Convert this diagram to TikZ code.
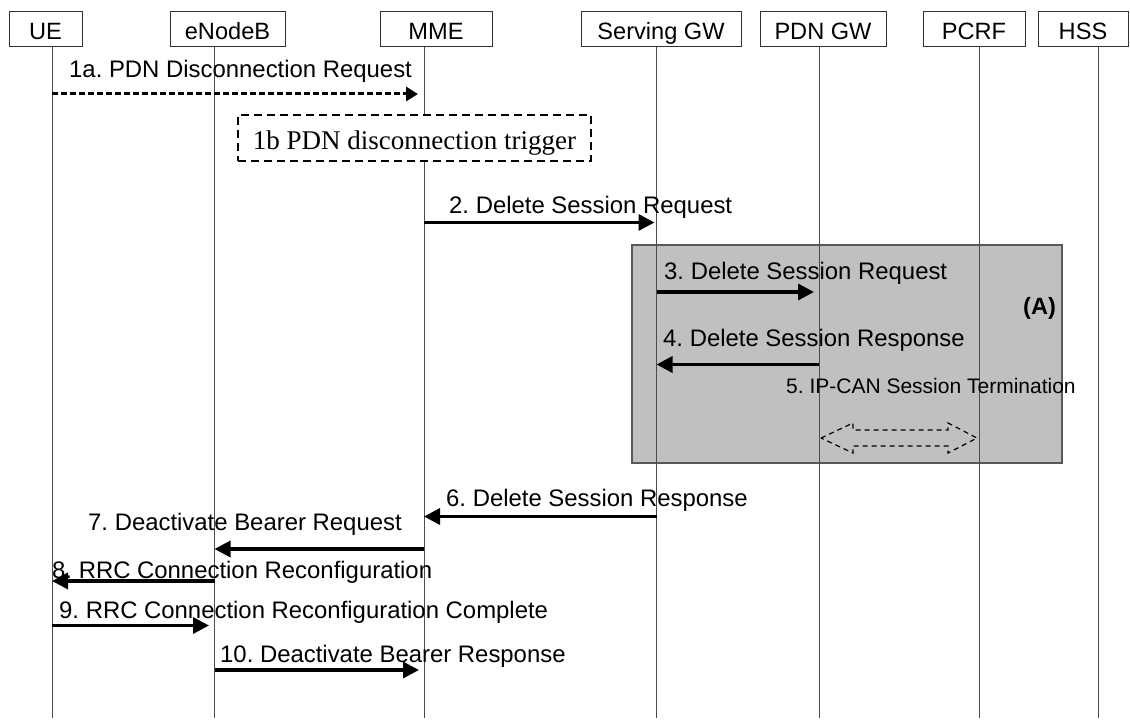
\documentclass[tikz,border=0pt]{standalone}
\usepackage{fontspec}
\setmainfont{Liberation Sans}
\newfontfamily\timesf{Liberation Serif}
\usetikzlibrary{arrows.meta}
\definecolor{shadebox}{RGB}{192,192,192}
\frenchspacing
\begin{document}
\begin{tikzpicture}[x=1pt,y=-1pt,
  hdr/.style={draw=black!80, line width=1pt, fill=white, inner sep=0pt,
    minimum height=35pt, text height=20pt, text depth=0.4pt,
    font=\fontsize{23.6}{28}\selectfont},
  life/.style={draw=black!70, line width=1pt},
  msg/.style={line width=3.4pt, -{Triangle[length=16pt,width=16pt]}},
  dmsg/.style={line width=3pt, dash pattern=on 6pt off 3pt,
    -{Triangle[length=12pt,width=14pt]}},
  lbl/.style={anchor=base west, inner sep=0pt, font=\fontsize{23.9}{28}\selectfont},
  slbl/.style={anchor=base west, inner sep=0pt, font=\fontsize{21}{25}\selectfont},
  trig/.style={draw=black, line width=1.3pt, dash pattern=on 8pt off 5pt,
    fill=white, inner sep=0pt, minimum width=353pt, minimum height=46pt,
    text height=23pt, text depth=0.4pt, font=\timesf\fontsize{27}{32}\selectfont},
  regionbox/.style={draw=black!65, line width=1.2pt, fill=shadebox},
  dblarrow/.style={draw=black, line width=1.2pt, dash pattern=on 5pt off 4pt}
]
\useasboundingbox (0,0) rectangle (1130,722);
\fill[white] (0,0) rectangle (1130,722);

% shaded region (A)
\draw[regionbox] (632,245) rectangle (1062,463);

% lifelines
\foreach \n/\x in {ue/52, enb/214.5, mme/424, sgw/656.5, pgw/819, pcrf/979.5, hss/1098}{
  \coordinate (\n T) at (\x,47);
  \coordinate (\n B) at (\x,718);
  \draw[life] (\n T) -- (\n B);
}

% header boxes
\node[hdr, minimum width=73pt]  (ue)   at (45.5,29.5) {UE};
\node[hdr, minimum width=115pt] (enb)  at (227.5,29.5) {eNodeB};
\node[hdr, minimum width=112pt] (mme)  at (436,29.5) {MME};
\node[hdr, minimum width=160pt] (sgw)  at (661,29.5) {Serving GW};
\node[hdr, minimum width=126pt] (pgw)  at (823,29.5) {PDN GW};
\node[hdr, minimum width=102pt] (pcrf) at (974,29.5) {PCRF};
\node[hdr, minimum width=90pt]  (hss)  at (1083,29.5) {HSS};

% 1a
\node[lbl] (l1a) at (69,78) {1a. PDN Disconnection Request};
\draw[dmsg, shorten >=6pt] (ueT |- 0,94) -- (mmeT |- 0,94);

% 1b
\node[trig] (trig) at (414.5,138) {1b PDN disconnection trigger};

% 2
\node[lbl] (l2) at (449,214) {2. Delete Session Request};
\draw[msg, shorten >=2pt] (mmeT |- 0,222.5) -- (sgwT |- 0,222.5);

% 3
\node[lbl] (l3) at (664,279.5) {3. Delete Session Request};
\draw[msg, shorten >=5pt] (sgwT |- 0,292) -- (pgwT |- 0,292);

% (A)
\node[lbl, font=\bfseries\fontsize{23.6}{28}\selectfont] (lA) at (1023,314) {(A)};

% 4
\node[lbl] (l4) at (663,346.7) {4. Delete Session Response};
\draw[msg] (pgwT |- 0,364.5) -- (sgwT |- 0,364.5);

% 5
\node[slbl] (l5) at (786,393.3) {5. IP-CAN Session Termination};
\draw[dblarrow] (821,438) -- (853,423) -- (853,430) -- (948,430) -- (948,423)
  -- (977,438) -- (948,453) -- (948,446) -- (853,446) -- (853,453) -- cycle;

% 6
\node[lbl] (l6) at (446,506) {6. Delete Session Response};
\draw[msg] (sgwT |- 0,516.5) -- (mmeT |- 0,516.5);

% 7
\node[lbl] (l7) at (88,530) {7. Deactivate Bearer Request};
\draw[msg] (mmeT |- 0,549) -- (enbT |- 0,549);

% 8
\node[lbl] (l8) at (52,578.3) {8. RRC Connection Reconfiguration};
\draw[msg] (enbT |- 0,581) -- (ueT |- 0,581);

% 9
\node[lbl] (l9) at (59,618.3) {9. RRC Connection Reconfiguration Complete};
\draw[msg, shorten >=5.5pt] (ueT |- 0,625.5) -- (enbT |- 0,625.5);

% 10
\node[lbl] (l10) at (220,662.3) {10. Deactivate Bearer Response};
\draw[msg, shorten >=5pt] (enbT |- 0,670) -- (mmeT |- 0,670);
\end{tikzpicture}
\end{document}
